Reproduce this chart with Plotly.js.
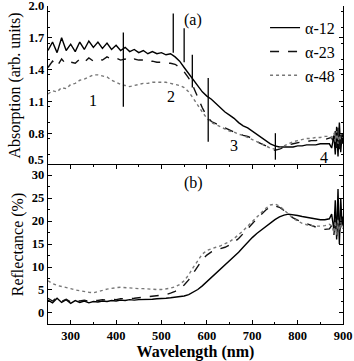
<!DOCTYPE html>
<html>
<head>
<meta charset="utf-8">
<script src="https://cdn.plot.ly/plotly-3.0.1.min.js"></script>
<style>html,body{margin:0;padding:0;background:#fff;}#chart{width:354px;height:361px;}</style>
</head>
<body>
<div id="chart"></div>
<script>
const wavelength = [250,260,270,280,290,300,310,320,330,340,350,360,370,380,390,400,410,420,430,440,450,460,470,480,490,500,510,520,530,540,550,560,570,580,590,600,610,620,630,640,650,660,670,680,690,700,710,720,730,740,750,760,770,780,790,800,810,820,830,840,850,860,870,875,880,883,886,889,892,895,898,900];

const seriesNames = ["α-12","α-23","α-48"];

const absA12 = [1.58,1.66,1.56,1.70,1.58,1.64,1.57,1.66,1.59,1.67,1.61,1.66,1.60,1.65,1.59,1.63,1.58,1.61,1.57,1.59,1.56,1.58,1.55,1.57,1.55,1.56,1.54,1.55,1.52,1.48,1.42,1.36,1.30,1.24,1.19,1.15,1.12,1.08,1.04,1.00,0.97,0.94,0.90,0.87,0.85,0.82,0.79,0.76,0.73,0.70,0.68,0.67,0.67,0.67,0.67,0.68,0.68,0.69,0.69,0.69,0.70,0.70,0.70,0.66,0.78,0.60,0.86,0.58,0.90,0.62,0.80,0.70];
const absA23 = [1.42,1.48,1.43,1.50,1.45,1.47,1.46,1.50,1.47,1.51,1.48,1.50,1.49,1.52,1.50,1.51,1.49,1.50,1.48,1.50,1.49,1.49,1.47,1.48,1.47,1.47,1.46,1.46,1.45,1.42,1.38,1.32,1.24,1.14,1.04,0.96,0.91,0.89,0.87,0.85,0.83,0.81,0.80,0.78,0.77,0.75,0.72,0.70,0.68,0.65,0.64,0.65,0.67,0.69,0.70,0.71,0.72,0.72,0.73,0.73,0.74,0.74,0.75,0.76,0.70,0.82,0.66,0.85,0.62,0.80,0.68,0.75];
const absA48 = [1.17,1.20,1.19,1.23,1.22,1.26,1.27,1.30,1.31,1.33,1.35,1.35,1.34,1.33,1.30,1.28,1.26,1.25,1.24,1.25,1.26,1.27,1.27,1.28,1.28,1.28,1.28,1.27,1.26,1.25,1.23,1.19,1.13,1.06,1.00,0.94,0.90,0.88,0.86,0.84,0.82,0.81,0.79,0.78,0.76,0.74,0.72,0.70,0.68,0.66,0.65,0.66,0.68,0.70,0.72,0.73,0.74,0.75,0.75,0.76,0.76,0.77,0.77,0.76,0.80,0.72,0.82,0.70,0.78,0.74,0.76,0.75];

const refA12 = [2.8,2.2,3.2,2.3,2.9,2.1,2.7,2.3,2.6,2.2,2.5,2.4,2.6,2.5,2.7,2.6,2.8,2.7,2.9,2.8,2.9,2.9,3.0,3.0,3.1,3.1,3.2,3.3,3.4,3.5,3.7,4.0,4.5,5.1,5.9,6.8,7.7,8.6,9.5,10.4,11.3,12.2,13.2,14.3,15.4,16.4,17.3,18.1,18.9,19.6,20.3,20.9,21.3,21.5,21.4,21.2,21.0,20.8,20.6,20.5,20.3,20.3,20.5,21.5,18.0,24.5,16.0,27.0,15.0,25.0,19.0,21.0];
const refA23 = [3.2,2.6,3.4,2.5,3.0,2.4,2.8,2.6,2.8,2.5,2.7,2.7,2.9,2.8,3.0,2.9,3.1,3.1,3.2,3.2,3.3,3.4,3.5,3.6,3.7,3.8,4.0,4.3,4.7,5.3,6.1,7.2,8.6,10.2,11.6,12.6,13.3,13.7,14.0,14.3,14.8,15.4,16.2,17.2,18.3,19.4,20.5,21.5,22.4,23.1,23.3,23.0,22.3,21.4,20.7,20.2,19.8,19.4,19.0,18.7,18.5,18.2,18.3,19.0,17.0,20.5,16.5,21.0,17.5,19.5,18.0,18.5];
const refA48 = [7.0,6.4,6.0,5.8,5.5,5.3,5.0,4.8,4.7,4.5,4.4,4.6,4.9,5.2,5.4,5.5,5.6,5.5,5.4,5.4,5.3,5.3,5.2,5.2,5.1,5.1,5.2,5.4,5.7,6.2,7.0,8.3,9.9,11.5,12.8,13.6,14.0,14.3,14.6,15.0,15.5,16.2,17.0,17.9,18.9,19.9,20.9,21.9,22.8,23.5,23.7,23.3,22.5,21.5,20.6,20.0,19.5,19.2,19.0,18.9,18.9,19.0,19.3,19.0,17.5,20.0,17.0,20.5,18.0,19.5,18.5,19.0];

// y ticks
const absTicks = [0.5,0.8,1.1,1.4,1.7,2.0];
const absTickText = ["0.5","0.8","1.1","1.4","1.7","2.0"];
const refTicks = [0,5,10,15,20,25,30];

// vertical marker segments in panel (a)
const markerX  = [416, 526, 550, 568, 603, 751];
const markerY0 = [1.05, 1.56, 1.47, 1.23, 0.72, 0.55];
const markerY1 = [1.75, 1.93, 1.79, 1.54, 1.32, 0.80];

// region labels in panel (a)
const regionLabels = ["1","2","3","4"];
const regionX = [350, 520, 659, 858];
const regionY = [1.11, 1.15, 0.68, 0.575];

const styles = [
  {color:"#000", dash:"solid", width:1.4},
  {color:"#111", dash:"dash", width:1.4},
  {color:"#777", dash:"dot", width:1.4}
];
const absSeries = [absA12, absA23, absA48];
const refSeries = [refA12, refA23, refA48];

const traces = [];
absSeries.forEach((s,i)=>traces.push({x:wavelength, y:s, type:"scatter", mode:"lines", name:seriesNames[i], line:styles[i], xaxis:"x", yaxis:"y2", showlegend:true}));
refSeries.forEach((s,i)=>traces.push({x:wavelength, y:s, type:"scatter", mode:"lines", name:seriesNames[i], line:styles[i], xaxis:"x", yaxis:"y", showlegend:false}));

const F = "Liberation Serif";
const tickFont = {family:F, size:12.5, weight:"bold", color:"#000"};
const shapes = markerX.map((x,i)=>({type:"line", xref:"x", yref:"y2", x0:x, x1:x, y0:markerY0[i], y1:markerY1[i], line:{color:"#000", width:1.3}}));
const annotations = regionLabels.map((t,i)=>({text:t, x:regionX[i], y:regionY[i], xref:"x", yref:"y2", showarrow:false, font:{family:F, size:16, color:"#000"}}));
annotations.push({text:"(a)", x:570, y:1.87, xref:"x", yref:"y2", showarrow:false, font:{family:F, size:16, color:"#000"}});
annotations.push({text:"(b)", x:570, y:28.3, xref:"x", yref:"y", showarrow:false, font:{family:F, size:16, color:"#000"}});
// lowest absorption tick label, nudged up so it clears the "30" below it
annotations.push({text:absTickText[0], x:0, xref:"paper", xanchor:"right", xshift:-2, y:absTicks[0], yref:"y2", yanchor:"middle", yshift:5, showarrow:false, font:tickFont});

const axCommon = {showline:true, linecolor:"#000", linewidth:1.3, mirror:"ticks", ticks:"inside", ticklen:4, tickcolor:"#000", showgrid:false, zeroline:false, ticklabeloverflow:"allow", tickfont:tickFont};

const layout = {
  width:354, height:361,
  margin:{l:48, r:11, t:6, b:37},
  paper_bgcolor:"#fff", plot_bgcolor:"#fff",
  font:{family:F, color:"#000"},
  xaxis: Object.assign({}, axCommon, {range:[250,900], tickvals:[300,400,500,600,700,800,900], anchor:"y", minor:{ticks:"inside", ticklen:2, dtick:50, tickcolor:"#000"},
    title:{text:"Wavelength (nm)", font:{family:F, size:16, weight:"bold", color:"#000"}, standoff:7}}),
  xaxis2: Object.assign({}, axCommon, {range:[250,900], matches:"x", anchor:"y2", showticklabels:false, tickvals:[300,400,500,600,700,800,900], minor:{ticks:"inside", ticklen:2, dtick:50, tickcolor:"#000"}}),
  yaxis: Object.assign({}, axCommon, {domain:[0,0.5], range:[-2.4,32.2], tickvals:refTicks, minor:{ticks:"inside", ticklen:2, dtick:2.5, tickcolor:"#000"},
    title:{text:"Reflectance (%)", font:{family:F, size:16, color:"#000"}, standoff:4}}),
  yaxis2: Object.assign({}, axCommon, {domain:[0.5,1], range:[0.5,2.0], tickvals:absTicks, ticktext:[""].concat(absTickText.slice(1)), anchor:"x", minor:{ticks:"inside", ticklen:2, dtick:0.15, tickcolor:"#000"},
    title:{text:"Absorption (arb. units)", font:{family:F, size:16, color:"#000"}, standoff:4}}),
  legend:{x:0.99, y:0.985, xanchor:"right", yanchor:"top", bgcolor:"rgba(0,0,0,0)", font:{family:F, size:16, color:"#000"}, tracegroupgap:0, itemwidth:30},
  showlegend:true,
  shapes:shapes,
  annotations:annotations
};

Plotly.newPlot("chart", traces, layout, {displayModeBar:false, staticPlot:true});
</script>
</body>
</html>
